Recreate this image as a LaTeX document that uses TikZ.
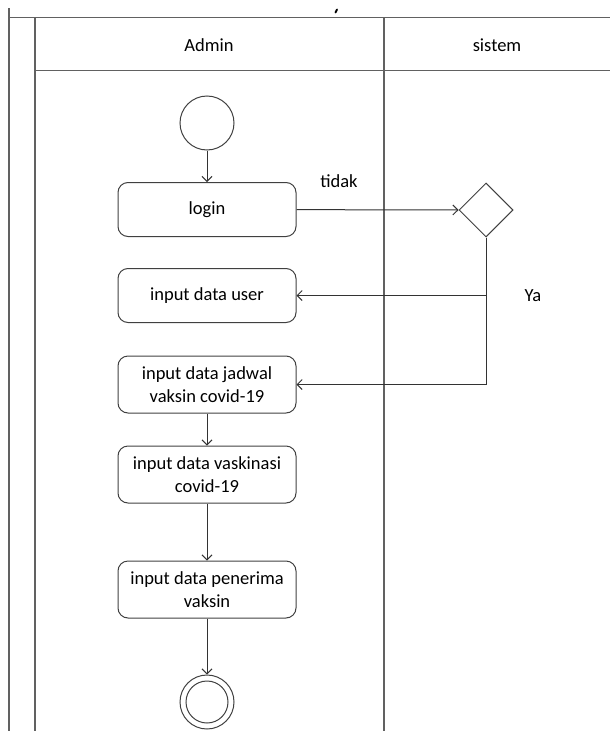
\documentclass[tikz,border=0pt]{standalone}
\usepackage{fontspec}
\setmainfont{Carlito}
\usetikzlibrary{shapes.geometric,arrows.meta}

\tikzset{
  lane/.style={draw=black!62, line width=1.8pt},
  action/.style={draw=black!75, line width=1pt, rounded corners=10pt,
    minimum width=178pt, minimum height=54pt, align=center, inner sep=2pt,
    font=\fontsize{18.5}{23}\selectfont},
  startnode/.style={circle, draw=black!75, line width=1pt, minimum size=54pt, inner sep=0pt},
  decision/.style={diamond, draw=black!75, line width=1pt, minimum width=54pt,
    minimum height=54pt, inner sep=0pt},
  flow/.style={draw=black!80, line width=1pt, -{Straight Barb[length=5pt,width=10pt]}},
  lbl/.style={font=\fontsize{18.5}{23}\selectfont, inner sep=0pt},
}

\begin{document}
\begin{tikzpicture}[x=1pt, y=-1pt]
  \useasboundingbox (0,0) rectangle (610,731);

  % swimlane frame
  \draw[lane] (9,8) -- (9,731);
  \draw[lane] (9,17.5) -- (610,17.5);
  \draw[lane] (35,17.5) -- (35,731);
  \draw[lane] (35,70.5) -- (610,70.5);
  \draw[lane] (384,17.5) -- (384,731);
  \draw[black, line width=2pt, line cap=round] (337,9.5) -- (335.5,12.5);

  \node[lbl] (admin) at (209,45) {Admin};
  \node[lbl] (sistem) at (497,45) {sistem};

  % activities
  \node[startnode] (start) at (207,123) {};
  \node[action] (login) at (207,209.5) {login};
  \node[action] (user) at (207,295.5) {input data user};
  \node[action, minimum height=57pt] (jadwal) at (207,384.5) {input data jadwal\\vaksin covid-19};
  \node[action, minimum height=57pt] (vaks) at (207,474.5) {input data vaskinasi\\covid-19};
  \node[action, minimum height=57pt] (pen) at (207,589.5) {input data penerima\\vaksin};
  \node[startnode] (fin) at (207,702) {};
  \draw[draw=black!75, line width=1pt] (fin.center) circle (21pt);

  \node[decision] (dec) at (486,210) {};

  % flows
  \draw[flow] (start) -- (login);
  \draw[flow] (login) -- (dec);
  \draw[flow] (dec.south) |- (user.east);
  \draw[flow] (dec.south) |- (jadwal.east);
  \draw[flow] (jadwal) -- (vaks);
  \draw[flow] (vaks) -- (pen);
  \draw[flow] (pen) -- (fin);

  \node[lbl] (tidak) at (339,181) {tidak};
  \node[lbl] (ya) at (533,296) {Ya};
\end{tikzpicture}
\end{document}
